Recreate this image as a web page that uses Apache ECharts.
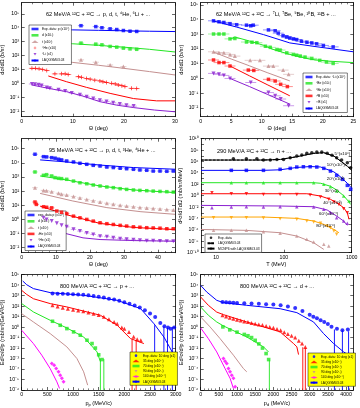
<!DOCTYPE html>
<html>
<head>
<meta charset="utf-8">
<script src="https://cdn.jsdelivr.net/npm/echarts@6/dist/echarts.min.js"></script>
<style>
  html, body { margin: 0; padding: 0; background: #fff; }
  #chart { width: 360px; height: 408px; }
</style>
</head>
<body>
<div id="chart"></div>
<script>
// panel 1: 62 MeV/A 12C+12C -> p, d, t, 4He, 6Li   (theta in deg, b/sr)
const p1ExpP  = [[11.6,14000],[14.5,12000],[15.7,10000],[17.3,8300],[18.6,7400],[19.9,6300],[21.2,5600],[22.5,5400]];
const p1ExpD  = [[11.6,780],[14.5,660],[15.7,590],[17.3,450],[18.6,400],[19.9,340],[21.2,300],[22.5,280]];
const p1ExpT  = [[11.6,49],[14.5,33],[17.3,21],[19.9,16]];
const p1ExpHe = [[2,12],[2.7,12],[3.4,11],[4.1,10],[4.9,8.3],[6.5,4.8],[7.8,4.8],[8.5,4.8],[9.1,4.3],[11.1,3.0],[11.7,2.7],[12.7,2.2],[13.4,2.0],[14.3,1.7],[15.3,1.5],[15.9,1.3],[16.6,1.15],[17.6,1.0],[18.3,0.9],[18.9,0.76],[19.6,0.68],[20.2,0.58],[21.5,0.44],[22.5,0.42]];
const p1ExpLi = [[2,0.9],[2.6,0.85],[3.3,0.8],[3.9,0.7],[4.9,0.5],[5.5,0.45],[7.2,0.35],[8.5,0.28],[9.8,0.2],[11.4,0.15],[12.7,0.11],[14,0.08],[15.3,0.06],[16.6,0.05],[17.9,0.04],[19.2,0.032],[20.5,0.027],[21.9,0.023]];
const p1ModP  = [[1.6,8000],[5,7600],[10,7000],[15,6500],[20,6000],[25,5600],[30,5300]];
const p1ModD  = [[2,1000],[5,900],[10,700],[15,540],[20,400],[25,280],[30,180]];
const p1ModT  = [[2,60],[5,48],[10,32],[15,20],[20,12],[25,7],[30,4]];
const p1ModHe = [[5.2,3.4],[8.8,1.3],[12.7,0.51],[17.3,0.19],[21.9,0.08],[26.4,0.055],[30,0.055]];
const p1ModLi = [[2,0.76],[5,0.45],[8.8,0.25],[12,0.12],[15.3,0.048],[18.6,0.027],[21.9,0.018],[26,0.012],[30,0.009]];
const p1AngErr = 0.6;   // half width of the angular bins, deg

// panel 2: 62 MeV/A -> 7Li, 7Be, 9Be, 10B, 11B
const p2ExpLi7 = [[2.1,8300],[3,7100],[3.8,6400],[4.8,5300],[5.9,4500],[7.5,4200],[8.2,3800],[8.6,4200],[11.1,2000],[12.2,1750],[12.7,1200],[13.5,810],[14.1,660],[14.6,560],[15.2,485],[15.7,440],[16.5,340],[17.4,290],[18.2,260],[19,225],[20.1,175],[21.7,140]];
const p2ExpBe7 = [[2.1,1050],[3,1050],[3.8,1050],[4.8,490],[5.6,520],[7.5,300],[8.4,290],[9.2,270],[10.6,155],[11.4,130],[12.5,93],[13,85],[14.1,55],[15.2,43],[15.7,38],[16.3,33],[17.1,28],[18.2,23],[19.5,17],[20.6,13],[21.7,10.5]];
const p2ExpBe9 = [[2.1,65],[3,55],[3.8,55],[4.8,43],[5.6,33],[8.1,17],[9.7,17],[11.1,6.9],[11.9,6.9],[13.5,3.7],[14.4,1.9]];
const p2ExpB10 = [[2.1,18],[3,12],[3.8,12],[4.8,7],[7.8,3.7],[8.7,3.5],[11.1,0.87],[12.2,0.67],[13.1,0.4],[14.2,0.28]];
const p2ExpB11 = [[2.1,2.2],[3,1.9],[3.8,1.6],[4.8,1.0],[8.2,0.53],[11.1,0.11],[12.2,0.066],[13.1,0.04],[14.4,0.014]];
const p2ModLi7 = [[2,8300],[5.9,3100],[10.3,950],[14.6,260],[18.4,155],[25,65]];
const p2ModBe7 = [[4.8,480],[5.6,660],[8,350],[10.3,180],[12,90],[14.6,43],[18,20],[21,15],[25,12]];
const p2ModBe9 = [[2.1,62],[5,21],[8,7.2],[11,2.4],[14.6,0.68]];
const p2ModB10 = [[4.8,7],[8,1.5],[11,0.36],[14.6,0.066]];
const p2ModB11 = [[4.8,1.0],[8,0.28],[11,0.08],[14.6,0.018]];
const p2AngErr = 0.9;

// panel 3: 95 MeV/A -> p, d, t, 3He, 4He
const p3ExpP   = [[3.9,40000],[6.4,27000],[7.3,26000],[8.8,23000],[9.8,21000],[10.8,17800],[11.7,16000],[13.2,13400],[15.2,11400],[17.1,9200],[19.1,7800],[21,6600],[23,5900],[25,5000],[26.9,4600],[28.9,4100],[30.8,3800],[32.8,3460],[34.7,3100],[36.7,2950],[38.6,2600],[40.6,2600],[42.6,2500],[44.5,2600]];
const p3ExpD   = [[3.9,2240],[6.4,1300],[7.3,1450],[8.8,1170],[9.8,890],[10.8,800],[11.7,760],[13.2,680],[15.2,510],[17.1,390],[19.1,330],[21,270],[23,230],[25,195],[26.9,175],[28.9,148],[30.8,132],[32.8,120],[34.7,112],[36.7,107],[38.6,100],[40.6,95],[42.6,91],[44.5,85]];
const p3ExpT   = [[3.9,175],[6.4,112],[7.3,105],[8.8,89],[10.8,71],[11.7,60],[13.2,52],[15.2,42],[17.1,33],[19.1,26],[21,21],[23,17],[25,14],[26.9,12],[28.9,10],[30.8,8.7],[32.8,7.8],[34.7,7],[36.7,6.5],[38.6,6],[40.6,5.5],[42.6,5],[44.5,4.6]];
const p3ExpHe3 = [[3.9,17],[4.3,11.5],[6.4,7.9],[7.3,7.2],[8.8,6.6],[10.3,3.9],[11.7,3.2],[13.2,2.6],[15.2,1.7],[17.1,1.3],[19.1,1.0],[21,0.76],[23,0.58],[25,0.5],[26.9,0.44],[28.9,0.38],[30.8,0.34],[32.8,0.3],[34.7,0.28],[36.7,0.26],[38.6,0.25],[40.6,0.24],[42.6,0.22],[44.5,0.22]];
const p3ExpHe4 = [[6.4,1.3],[7.3,1.0],[8.8,0.76],[10.3,0.53],[11.7,0.38],[13.2,0.3],[15.2,0.2],[17.1,0.15],[19.1,0.11],[21,0.087],[23,0.066],[25,0.06],[26.9,0.05],[28.9,0.044],[30.8,0.04],[32.8,0.036],[34.7,0.034],[36.7,0.031],[38.6,0.031],[40.6,0.03],[42.6,0.029],[44.5,0.029]];
const p3ModP   = [[5.4,16000],[13,11500],[23,6900],[32.8,4600],[45,3500]];
const p3ModD   = [[5.4,1170],[13,620],[23,230],[33,120],[45,78]];
const p3ModT   = [[5.4,69],[15,20],[25,6.8],[35,3.5],[45,2.3]];
const p3ModHe3 = [[5.4,8.7],[13,2.2],[23,0.52],[33,0.27],[45,0.19]];
const p3ModHe4 = [[5.4,0.52],[13,0.1],[18,0.05],[23,0.038],[33,0.032],[45,0.029]];
const p3AngErr = 0.8;

// panel 4: 290 MeV/A -> n   (T in MeV, mb/sr/MeV), scaled curves
const p4Exp1 = [[18,3.1e6],[28,3.1e6],[40,3.1e6],[50,1.8e6],[63,1.8e6],[79,2.3e6],[99,2.3e6],[124,4.7e6],[155,9e6],[184,1.35e7],[218,2.7e7],[258,3.5e7],[306,4.6e7],[362,4.6e7],[435,2.7e7],[512,1.2e7],[600,4.7e6],[710,1.8e6],[862,6e5],[966,8e4]];
const p4Exp2 = [[16.8,2.8e4],[28,2.8e4],[50,2.8e4],[88,4.2e4],[124,6.3e4],[155,1.07e5],[194,1.2e5],[244,1.2e5],[306,1.07e5],[388,6.3e4],[486,2.1e4],[600,3.7e3],[730,740],[862,65],[966,13]];
const p4Exp3 = [[16.8,190],[28,190],[50,190],[88,190],[155,190],[275,190],[388,98],[486,38],[600,6.6],[760,0.87],[913,0.115]];
const p4Exp4 = [[8.7,3.4],[16.8,2.2],[28,2.2],[50,1.7],[88,1.7],[155,1.7],[244,1.3],[346,0.59],[459,0.23],[546,0.078],[648,0.03],[760,0.0052],[862,0.001]];
const p4Exp5 = [[8.7,0.0078],[16.8,0.0102],[28,0.0117],[50,0.0102],[88,0.0117],[155,0.0117],[275,0.0102],[388,0.004],[486,0.00105],[600,1.4e-4],[760,3.6e-5],[862,1.4e-5]];
const p4Exp6 = [[9.2,1.4e-4],[16.8,1.4e-4],[28,1.4e-4],[50,1.2e-4],[88,9.1e-5],[155,7.1e-5],[218,3.6e-5],[275,2.4e-5],[346,1.4e-5],[435,4.8e-6],[486,2.5e-6],[546,6.3e-7],[600,1.7e-7]];
const p4Exp7 = [[9.2,8.3e-7],[16.8,8.3e-7],[28,8.3e-7],[50,4.8e-7],[88,2.5e-7],[155,8.3e-8],[218,2.2e-8],[275,7.4e-9],[388,2.9e-9],[459,1.5e-9]];
const p4Mod1 = [[6,1.8e6],[50,1.8e6],[89,2.3e6],[155,6.9e6],[275,2.7e7],[388,3.5e7],[546,9e6],[686,1.2e6],[862,1.5e5],[1000,3e4]];
const p4Mod2 = [[6,2.8e4],[50,2.8e4],[88,3.5e4],[155,9e4],[244,1.3e5],[346,1.1e5],[546,1.5e4],[686,2e3],[862,150],[1000,20]];
const p4Mod3 = [[6,190],[275,190],[350,150],[486,45],[600,10],[760,1],[913,0.08],[960,0.03]];
const p4Mod4 = [[6,2.2],[218,2.2],[346,0.87],[486,0.23],[600,0.06],[760,0.008],[862,0.001],[913,7e-5]];
const p4Mod5 = [[6,0.02],[88,0.0155],[275,0.0117],[435,0.0031],[600,2.7e-4],[760,3.6e-5],[862,6.3e-6]];
const p4Mod6 = [[6,1.8e-4],[50,1.8e-4],[155,1.05e-4],[275,3.6e-5],[388,9.3e-6],[546,1.2e-6],[648,3.2e-7]];
const p4Mod7 = [[6,1.2e-6],[28,8.3e-7],[88,3.2e-7],[155,8.3e-8],[275,5.6e-9],[388,3.8e-10]];
const p4Tags = ['5°(x10⁶)','10°(x10⁴)','20°(x10²)','30°(x1)','40°(x10⁻²)','60°(x10⁻⁴)','80°(x10⁻⁶)'];
const p4TagAt = [[560,2e7],[430,2.5e5],[430,1e3],[400,8],[380,0.06],[330,7e-4],[300,5e-6]];

// panel 5: 800 MeV/A -> p   (p in MeV/c)
const p5Exp10  = [[600,1600],[700,1550],[800,1500],[900,1450],[1000,1400],[1100,1300],[1200,1250],[1300,1100],[1400,950],[1500,800],[1600,650],[1700,520],[1800,420],[1900,330],[2000,240],[2100,170],[2200,115],[2300,75],[2400,40],[2500,20],[2600,9],[2700,2.5],[2780,1.2],[2850,0.9],[2900,0.7],[2970,0.9]];
const p5Exp35  = [[600,120],[700,95],[800,70],[900,56],[1000,46],[1100,38],[1200,32],[1300,25],[1400,19],[1500,14],[1600,10],[1700,5.5],[1800,3],[1860,2.1],[1950,0.9],[2000,0.7],[2090,0.35],[2180,0.12],[2250,0.07],[2320,0.056]];
const p5Exp70  = [[600,3.6],[750,1.5],[880,0.72],[1011,0.35],[1141,0.17],[1272,0.056],[1370,0.027],[1435,0.01],[1500,0.0023],[1565,0.0008]];
const p5Exp90  = [];
const p5Exp140 = [[587,3.3e-4],[633,2.3e-4],[672,1.1e-4],[717,5.4e-5],[750,2.6e-5],[783,1.3e-5],[815,6e-6]];
const p5Mod10  = [[20,25000],[98,11000],[228,4700],[555,1950],[1207,1070],[1860,360],[2316,58],[2577,2.1],[2772,0.11],[2935,0.004]];
const p5Mod35  = [[0,3200],[98,1300],[228,510],[555,175],[880,84],[1533,13.5],[1860,1.5],[2120,0.08],[2380,0.027]];
const p5Mod70  = [[0,175],[228,28],[555,4.5],[880,0.83],[1207,0.115],[1468,0.0043],[1533,5e-4]];
const p5Mod90  = [[0,19],[228,3.1],[555,0.24],[880,0.013],[1076,0.001],[1207,5.4e-5],[1285,2.9e-6]];
const p5Mod140 = [[0,0.5],[228,0.027],[391,0.0021],[555,1.1e-4],[685,6e-6],[737,1.4e-6]];
// points whose lower error reaches zero: [p, upper edge]
const p5Drop10 = [[2590,1.5],[2770,1.2],[2840,0.9],[2935,1.0]];
const p5Drop35 = [[2150,0.07],[2230,0.06]];
const p5Drop70 = [[1533,0.001],[1600,0.0009]];

// panel 6: 800 MeV/A -> d
const p6Exp10  = [[600,250],[700,230],[800,220],[900,210],[1000,200],[1200,185],[1400,175],[1600,165],[1800,155],[2000,140],[2200,120],[2400,95],[2600,65],[2800,35],[3000,15],[3100,10],[3200,7],[3300,4.5],[3400,3],[3500,2],[3600,1.1],[3750,0.7],[3900,0.5],[4050,0.6]];
const p6Exp35  = [[600,13.5],[700,10.5],[800,8],[900,6.3],[1000,5],[1100,4.2],[1200,3.5],[1300,3],[1400,2.5],[1500,2.1],[1600,1.8],[1700,1.55],[1800,1.3],[1900,1.05],[2000,0.85],[2100,0.65],[2200,0.5],[2300,0.33],[2400,0.22],[2500,0.15],[2600,0.1],[2700,0.05],[2790,0.027],[2880,0.013]];
const p6Exp70  = [[610,1.05],[800,0.55],[1000,0.33],[1200,0.2],[1300,0.15],[1400,0.1],[1500,0.055],[1600,0.025],[1700,0.01],[1800,0.003],[1870,8e-4]];
const p6Exp90  = [];
const p6Exp140 = [[625,0.001],[671,5.6e-4],[717,3.3e-4],[763,1.1e-4],[809,5.4e-5],[855,2.6e-5],[901,1.3e-5],[947,2e-6]];
const p6Mod10  = [[0,9500],[165,2250],[441,360],[625,215],[1268,120],[2187,57],[2647,24],[3106,3.1],[3382,0.24],[3658,0.027],[3934,0.0043],[4072,0.0021]];
const p6Mod35  = [[0,740],[211,120],[441,27],[625,15.5],[1268,3.1],[2187,0.35],[2555,0.027],[2647,0.013],[2693,0.0024]];
const p6Mod70  = [[0,83],[211,13.5],[441,3.1],[625,1.3],[1268,0.115],[1728,0.013],[1866,0.0043]];
const p6Mod90  = [[0,9.4],[257,1.05],[533,0.08],[901,0.0021],[1176,1.1e-4],[1268,5.4e-5]];
const p6Mod140 = [[0,0.83],[211,0.08],[441,0.0043],[671,1.1e-4],[809,1.3e-5],[901,1.4e-6]];
const p6Drop10 = [[3680,0.6],[3900,0.5],[4070,0.4]];
const p6Drop35 = [[2810,0.012],[2880,0.01]];
const p6Drop70 = [[1890,0.0008]];

// legend texts, keyed by series name
const LABEL = {
  p1_p: 'Exp. data: p (x10⁴)', p1_d: 'd (x10³)', p1_t: 't (x10²)', p1_he: '⁴He (x10)', p1_li: '⁶Li (x1)', p1_laq: 'LAQGSM03.03',
  p2_li7: 'Exp. data: ⁷Li (x10⁴)', p2_be7: '⁷Be (x10³)', p2_be9: '⁹Be (x10²)', p2_b10: '¹⁰B (x10)', p2_b11: '¹¹B (x1)', p2_laq: 'LAQGSM03.03',
  p3_p: 'exp. data p (x10⁴)', p3_d: 'd (x10³)', p3_t: 't (x10²)', p3_he3: '³He (x10)', p3_he4: '⁴He (x1)', p3_laq: 'LAQGSM03.03',
  p4_exp: 'Exp. data', p4_laq: 'LAQGSM03.03', p4_mcnp: 'MCNP6 with LAQGSM03.03',
  p5_10: 'Exp. data: 10 deg (x1)', p5_35: '35 deg (x10⁻¹)', p5_70: '70 deg (x10⁻²)', p5_90: '90 deg (x10⁻³)', p5_140: '140 deg (x10⁻⁴)', p5_laq: 'LAQGSM03.03',
  p6_10: 'Exp. data: 10 deg (x1)', p6_35: '35 deg (x10⁻¹)', p6_70: '70 deg (x10⁻²)', p6_90: '90 deg (x10⁻³)', p6_140: '140 deg (x10⁻⁴)', p6_laq: 'LAQGSM03.03'
};

const FONT = '"Liberation Sans", Arial, sans-serif';
const BLUE = '#0000ff', GREEN = '#22e622', ROSY = '#c49090', RED = '#ff0000',
      PURPLE = '#8a1fd0', ORANGE = '#ffa500', MAGENTA = '#ff00ff', BLACK = '#000000';
const SQ = 'rect', TRI = 'triangle', CIR = 'circle', DIA = 'diamond';
const TRI_DN = 'path://M0,0L10,0L5,8.66Z';
const PLUS = 'path://M4,0H6V4H10V6H6V10H4V6H0V4H4Z';

const SUP = {'-':'⁻','0':'⁰','1':'¹','2':'²','3':'³','4':'⁴','5':'⁵','6':'⁶','7':'⁷','8':'⁸','9':'⁹'};
const pow10 = n => '10' + String(n).split('').map(c => SUP[c]).join('');
const lg = v => Math.log10(v);
const decades = (a, b, step) => { const r = []; for (let i = a; i <= b; i += (step || 1)) r.push(i); return r; };

// plot frames in px
const grids = [
  {left: 21.7, top: 2.7, width: 153.3, height: 114},
  {left: 200.7, top: 2.7, width: 152.6, height: 114},
  {left: 21.7, top: 138.7, width: 153.3, height: 114},
  {left: 201, top: 138.7, width: 150.7, height: 114},
  {left: 21.7, top: 274.7, width: 154, height: 115.3},
  {left: 200.7, top: 274.7, width: 152.6, height: 115.3}
].map(g => Object.assign({outerBoundsMode: 'none', containLabel: false}, g));

const axLine = {onZero: false, lineStyle: {color: '#000', width: 0.8}};
const tick = {inside: true, length: 3, lineStyle: {color: '#000', width: 0.6}};
const lab = {fontSize: 5.2, color: '#000', fontFamily: FONT, margin: 2.5};
const nameStyle = {fontSize: 5.6, color: '#000', fontFamily: FONT};

const xAxes = [], yAxes = [], yMin = [];

// linear x axis (bottom + mirrored top)
function linX(g, min, max, step, name, nameRich) {
  const base = {type: 'value', gridIndex: g, min, max, interval: step, splitLine: {show: false},
    axisLine: axLine, axisTick: tick,
    minorTick: {show: true, splitNumber: 5, length: 1.6, lineStyle: {color: '#000', width: 0.5}}};
  xAxes.push(Object.assign({}, base, {position: 'bottom', name, nameLocation: 'middle', nameGap: 9,
    nameTextStyle: Object.assign({}, nameStyle, nameRich ? {rich: nameRich} : {}),
    axisLabel: Object.assign({}, lab, {formatter: v => (Math.abs(v % step) < 1e-9 ? String(v) : '')})}));
  xAxes.push(Object.assign({}, base, {position: 'top', axisLabel: {show: false}}));
}

// log10 x axis (panel 4)
function logX(g, min, max, ticks, name) {
  const minors = [];
  ticks.concat([ticks[0] - 1]).forEach(d => { for (let k = 2; k <= 9; k++) minors.push(d + lg(k)); });
  const base = {type: 'value', gridIndex: g, min, max, splitLine: {show: false}, axisLine: axLine};
  xAxes.push(Object.assign({}, base, {position: 'bottom', name, nameLocation: 'middle', nameGap: 9, nameTextStyle: nameStyle,
    axisTick: Object.assign({}, tick, {customValues: ticks}),
    axisLabel: Object.assign({}, lab, {customValues: ticks, formatter: v => String(Math.round(Math.pow(10, v)))})}));
  xAxes.push(Object.assign({}, base, {position: 'top', axisLabel: {show: false},
    axisTick: Object.assign({}, tick, {length: 1.6, customValues: minors.filter(v => v > min && v < max)})}));
}

// log10 y axis (left + mirrored right)
function logY(g, min, max, ticks, labels, name, gap) {
  yMin[g] = min;
  const base = {type: 'value', gridIndex: g, min, max, splitLine: {show: false}, axisLine: axLine,
    axisTick: Object.assign({}, tick, {customValues: ticks})};
  yAxes.push(Object.assign({}, base, {position: 'left', name, nameLocation: 'middle', nameGap: gap, nameTextStyle: nameStyle,
    axisLabel: Object.assign({}, lab, {customValues: labels, formatter: v => pow10(Math.round(v))})}));
  yAxes.push(Object.assign({}, base, {position: 'right', axisLabel: {show: false}}));
}

const SIG = 'dσ/dΩ (b/sr)';
linX(0, 0, 30, 10, 'Θ (deg)');
linX(1, 0, 25, 5, 'Θ (deg)');
linX(2, 0, 45, 10, 'Θ (deg)');
logX(3, lg(6), 3, [1, 2, 3], 'T (MeV)');
linX(4, 0, 3000, 500, '{m|p}{s|p}{m| (MeV/c)}', {m: {fontSize: 5.6}, s: {fontSize: 4, padding: [4, 0, 0, 0]}});
linX(5, 0, 4200, 500, '{m|p}{s|d}{m| (MeV/c)}', {m: {fontSize: 5.6}, s: {fontSize: 4, padding: [4, 0, 0, 0]}});

logY(0, -2.4, 5.8, decades(-2, 5), decades(-2, 5), SIG, 14);
logY(1, -2.6, 5.15, decades(-2, 5), decades(-2, 5), SIG, 14);
logY(2, -2.35, 5.7, decades(-2, 5), decades(-2, 5), SIG, 14);
logY(3, -10, 10, decades(-10, 10), decades(-10, 10, 2), 'd²σ/dTdΩ (mb/sr/MeV)', 15);
logY(4, -6, 5, decades(-6, 5), decades(-6, 5), 'Ed³σ/d³p (mb/sr/(GeV²/c³))', 14);
logY(5, -6, 5, decades(-6, 5), decades(-6, 5), 'Ed³σ/d³p (mb/sr/(GeV²/c³))', 14);

const series = [];
const logXY = [false, false, false, true, false, false];
const conv = (g, arr) => arr.map(d => [logXY[g] ? lg(d[0]) : d[0], lg(d[1])]);

function pts(g, name, data, color, symbol, size) {
  series.push({type: 'scatter', name, xAxisIndex: 2 * g, yAxisIndex: 2 * g, data: conv(g, data),
    symbol, symbolSize: size || 3.5, itemStyle: {color}, clip: true, z: 4, silent: true});
}
function curve(g, name, data, color, dashed) {
  const s = {type: 'line', name, xAxisIndex: 2 * g, yAxisIndex: 2 * g, data: conv(g, data),
    symbol: 'none', smooth: false, clip: true, z: 3, silent: true, itemStyle: {color},
    lineStyle: {color, width: 1, type: dashed ? [2.5, 1.5] : 'solid'}};
  series.push(s);
  return s;
}
// horizontal error bars of constant half width
function xBars(g, data, half, color) {
  series.push({type: 'custom', xAxisIndex: 2 * g, yAxisIndex: 2 * g, data: conv(g, data), clip: true, silent: true, z: 2,
    renderItem: (params, api) => {
      const a = api.coord([api.value(0) - half, api.value(1)]);
      const b = api.coord([api.value(0) + half, api.value(1)]);
      return {type: 'line', shape: {x1: a[0], y1: a[1], x2: b[0], y2: b[1]}, style: {stroke: color, lineWidth: 0.8, opacity: 0.55}};
    }});
}
// vertical error bars falling to the bottom of a log axis
function yDrops(g, data, color) {
  series.push({type: 'custom', xAxisIndex: 2 * g, yAxisIndex: 2 * g, data: conv(g, data), clip: true, silent: true, z: 2,
    renderItem: (params, api) => {
      const a = api.coord([api.value(0), api.value(1)]);
      const b = api.coord([api.value(0), yMin[g]]);
      return {type: 'line', shape: {x1: a[0], y1: a[1], x2: b[0], y2: b[1]}, style: {stroke: color, lineWidth: 0.9}};
    }});
}

// panel 1
curve(0, 'p1_laq', p1ModP, BLUE);
curve(0, 'p1_md', p1ModD, GREEN);
curve(0, 'p1_mt', p1ModT, ROSY);
curve(0, 'p1_mhe', p1ModHe, RED);
curve(0, 'p1_mli', p1ModLi, PURPLE);
[[p1ExpP, BLUE], [p1ExpD, GREEN], [p1ExpT, ROSY], [p1ExpHe, RED], [p1ExpLi, PURPLE]].forEach(d => xBars(0, d[0], p1AngErr, d[1]));
pts(0, 'p1_p', p1ExpP, BLUE, SQ);
pts(0, 'p1_d', p1ExpD, GREEN, SQ);
pts(0, 'p1_t', p1ExpT, ROSY, TRI, 4);
pts(0, 'p1_he', p1ExpHe, RED, PLUS, 4);
pts(0, 'p1_li', p1ExpLi, PURPLE, TRI_DN, 4);

// panel 2
curve(1, 'p2_laq', p2ModLi7, BLUE);
curve(1, 'p2_mbe7', p2ModBe7, GREEN);
curve(1, 'p2_mbe9', p2ModBe9, ROSY);
curve(1, 'p2_mb10', p2ModB10, RED);
curve(1, 'p2_mb11', p2ModB11, PURPLE);
[[p2ExpLi7, BLUE], [p2ExpBe7, GREEN], [p2ExpBe9, ROSY], [p2ExpB10, RED], [p2ExpB11, PURPLE]].forEach(d => xBars(1, d[0], p2AngErr, d[1]));
pts(1, 'p2_li7', p2ExpLi7, BLUE, SQ);
pts(1, 'p2_be7', p2ExpBe7, GREEN, SQ);
pts(1, 'p2_be9', p2ExpBe9, ROSY, TRI, 4);
pts(1, 'p2_b10', p2ExpB10, RED, SQ);
pts(1, 'p2_b11', p2ExpB11, PURPLE, TRI_DN, 4);

// panel 3
curve(2, 'p3_laq', p3ModP, BLUE);
curve(2, 'p3_md', p3ModD, GREEN);
curve(2, 'p3_mt', p3ModT, ROSY);
curve(2, 'p3_mhe3', p3ModHe3, RED);
curve(2, 'p3_mhe4', p3ModHe4, PURPLE);
[[p3ExpP, BLUE], [p3ExpD, GREEN], [p3ExpT, ROSY], [p3ExpHe3, RED], [p3ExpHe4, PURPLE]].forEach(d => xBars(2, d[0], p3AngErr, d[1]));
pts(2, 'p3_p', p3ExpP, BLUE, SQ);
pts(2, 'p3_d', p3ExpD, GREEN, SQ);
pts(2, 'p3_t', p3ExpT, ROSY, TRI, 4);
pts(2, 'p3_he3', p3ExpHe3, RED, SQ);
pts(2, 'p3_he4', p3ExpHe4, PURPLE, TRI_DN, 4);

// panel 4
const p4Colors = [BLACK, BLUE, GREEN, RED, PURPLE, ORANGE, ROSY];
const p4Syms = [CIR, SQ, TRI, TRI_DN, TRI, TRI_DN, TRI];
const p4Mods = [p4Mod1, p4Mod2, p4Mod3, p4Mod4, p4Mod5, p4Mod6, p4Mod7];
const p4Exps = [p4Exp1, p4Exp2, p4Exp3, p4Exp4, p4Exp5, p4Exp6, p4Exp7];
curve(3, 'p4_laq', p4Mod1, BLACK, true);
p4Mods.forEach((m, i) => {
  const s = curve(3, i === 0 ? 'p4_mcnp' : 'p4_m' + i, m, p4Colors[i]);
  s.markPoint = {symbol: 'circle', symbolSize: 0, silent: true,
    data: [{coord: [lg(p4TagAt[i][0]), lg(p4TagAt[i][1])], value: 0}],
    label: {show: true, position: 'right', distance: 0, formatter: p4Tags[i], fontSize: 4.3, color: '#000', fontFamily: FONT}};
});
p4Exps.forEach((e, i) => pts(3, i === 0 ? 'p4_exp' : 'p4_e' + i, e, p4Colors[i], p4Syms[i], 3.5));

// panel 5
curve(4, 'p5_laq', p5Mod10, BLUE);
curve(4, 'p5_m35', p5Mod35, RED);
curve(4, 'p5_m70', p5Mod70, GREEN);
curve(4, 'p5_m90', p5Mod90, ROSY);
curve(4, 'p5_m140', p5Mod140, MAGENTA);
yDrops(4, p5Drop10, BLUE);
yDrops(4, p5Drop35, RED);
yDrops(4, p5Drop70, GREEN);
pts(4, 'p5_10', p5Exp10, BLUE, CIR, 4);
pts(4, 'p5_35', p5Exp35, RED, TRI, 4);
pts(4, 'p5_70', p5Exp70, GREEN, SQ, 3.6);
pts(4, 'p5_90', p5Exp90, ROSY, TRI_DN, 4);
pts(4, 'p5_140', p5Exp140, MAGENTA, DIA, 4);

// panel 6
curve(5, 'p6_laq', p6Mod10, BLUE);
curve(5, 'p6_m35', p6Mod35, RED);
curve(5, 'p6_m70', p6Mod70, GREEN);
curve(5, 'p6_m90', p6Mod90, ROSY);
curve(5, 'p6_m140', p6Mod140, MAGENTA);
yDrops(5, p6Drop10, BLUE);
yDrops(5, p6Drop35, RED);
yDrops(5, p6Drop70, GREEN);
pts(5, 'p6_10', p6Exp10, BLUE, CIR, 4);
pts(5, 'p6_35', p6Exp35, RED, TRI, 4);
pts(5, 'p6_70', p6Exp70, GREEN, SQ, 3.6);
pts(5, 'p6_90', p6Exp90, ROSY, TRI_DN, 4);
pts(5, 'p6_140', p6Exp140, MAGENTA, DIA, 4);

function legendBox(left, top, names, bg, lh, gap) {
  return {left, top, orient: 'vertical', data: names, selectedMode: false, align: 'left',
    itemWidth: 7, itemHeight: 2.6, itemGap: gap, padding: [1.5, 2, 1.5, 1.5],
    backgroundColor: bg || '#ffffff', borderColor: '#000', borderWidth: 0.5,
    textStyle: {fontSize: 3.3, lineHeight: lh, color: '#000', fontFamily: FONT, padding: [0, 0, 0, -1.5]},
    formatter: n => LABEL[n]};
}

const titleStyle = {fontSize: 5.6, fontWeight: 'normal', color: '#000', fontFamily: FONT};
const titles = [
  ['62 MeV/A ¹²C + ¹²C → p, d, t, ⁴He, ⁶Li + ...', 46, 11],
  ['62 MeV/A ¹²C + ¹²C → ⁷Li, ⁷Be, ⁹Be, ¹⁰B, ¹¹B + ...', 216, 11],
  ['95 MeV/A ¹²C + ¹²C → p, d, t, ³He, ⁴He + ...', 49, 147],
  ['290 MeV/A ¹²C + ¹²C → n + ...', 217, 148],
  ['800 MeV/A ¹²C + ¹²C → p + ...', 60, 283],
  ['800 MeV/A ¹²C + ¹²C → d + ...', 240, 283]
].map(t => ({text: t[0], left: t[1], top: t[2], padding: 0, textStyle: titleStyle}));

const chart = echarts.init(document.getElementById('chart'));
chart.setOption({
  animation: false,
  backgroundColor: '#ffffff',
  title: titles,
  grid: grids,
  xAxis: xAxes,
  yAxis: yAxes,
  legend: [
    legendBox(29, 25, ['p1_p', 'p1_d', 'p1_t', 'p1_he', 'p1_li', 'p1_laq'], null, 5, 1.3),
    legendBox(303, 73, ['p2_li7', 'p2_be7', 'p2_be9', 'p2_b10', 'p2_b11', 'p2_laq'], null, 5, 1.3),
    legendBox(25, 211, ['p3_p', 'p3_d', 'p3_t', 'p3_he3', 'p3_he4', 'p3_laq'], null, 5, 1.3),
    legendBox(205, 234, ['p4_exp', 'p4_laq', 'p4_mcnp'], null, 4.6, 0.8),
    legendBox(130, 352, ['p5_10', 'p5_35', 'p5_70', 'p5_90', 'p5_140', 'p5_laq'], '#ffff00', 4.3, 0.9),
    legendBox(308, 353, ['p6_10', 'p6_35', 'p6_70', 'p6_90', 'p6_140', 'p6_laq'], '#ffff00', 4.3, 0.9)
  ],
  series
});
</script>
</body>
</html>
